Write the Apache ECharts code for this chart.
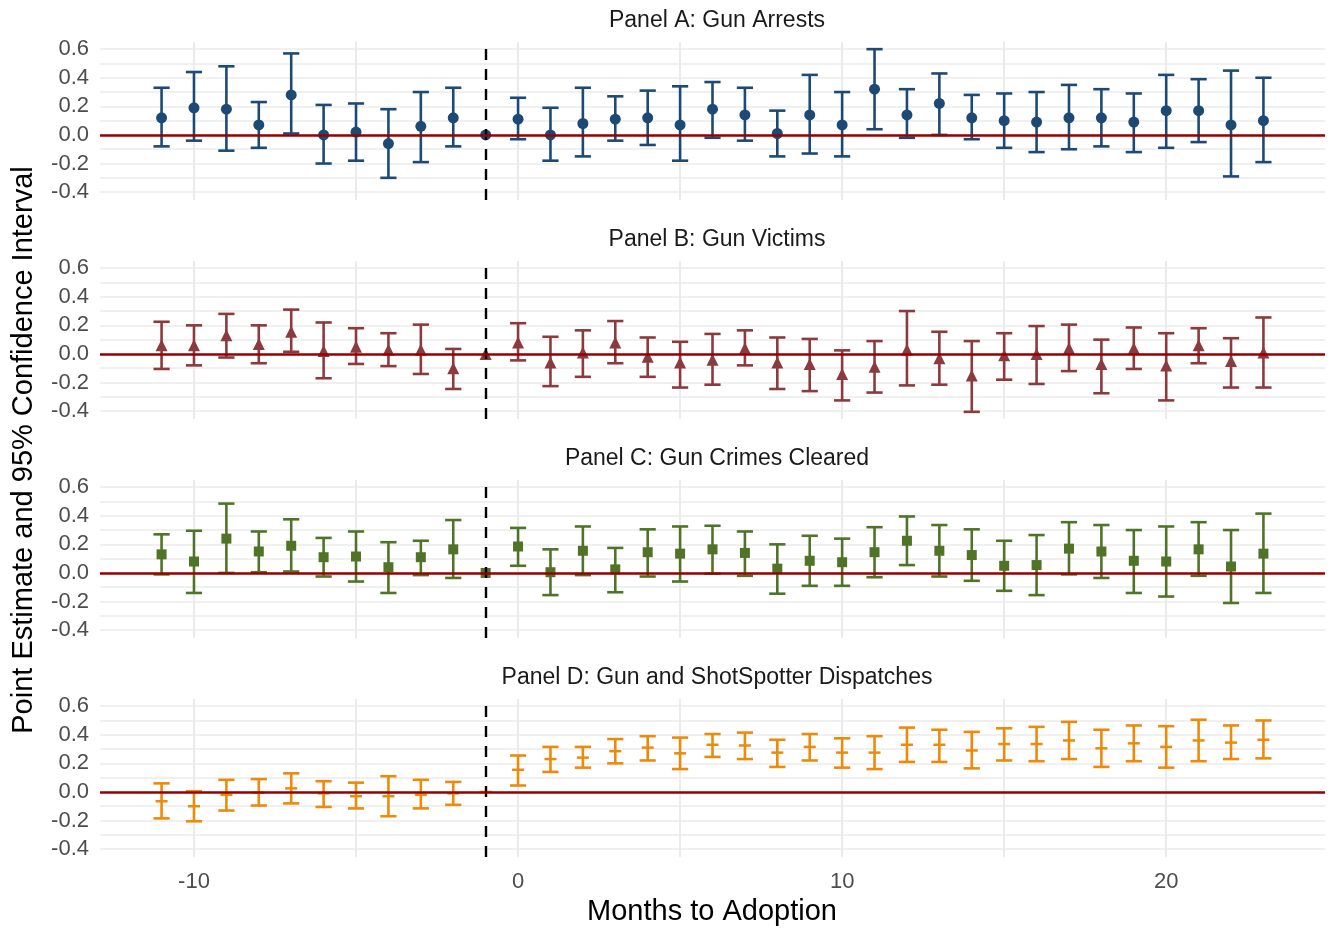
<!DOCTYPE html>
<html>
<head>
<meta charset="utf-8">
<script src="https://cdn.jsdelivr.net/npm/echarts@6/dist/echarts.min.js"></script>
<style>
	html, body { margin: 0; padding: 0; background: #fff; }
	#chart { width: 1330px; height: 929px; }
</style>
</head>
<body>
<div id="chart"></div>
<script>
// months relative to adoption (-1 is the reference month, no interval)
const months = [-11, -10, -9, -8, -7, -6, -5, -4, -3, -2, -1, 0, 1, 2, 3, 4, 5, 6, 7, 8, 9, 10, 11, 12, 13, 14, 15, 16, 17, 18, 19, 20, 21, 22, 23]

const panelTitles = [
	'Panel A: Gun Arrests',
	'Panel B: Gun Victims',
	'Panel C: Gun Crimes Cleared',
	'Panel D: Gun and ShotSpotter Dispatches'
]

// Panel A
const arrestsEst = [0.12, 0.19, 0.18, 0.07, 0.28, 0.00, 0.02, -0.06, 0.06, 0.12, 0, 0.11, 0.00, 0.08, 0.11, 0.12, 0.07, 0.18, 0.14, 0.01, 0.14, 0.07, 0.32, 0.14, 0.22, 0.12, 0.10, 0.09, 0.12, 0.12, 0.09, 0.17, 0.17, 0.07, 0.10]
const arrestsLo = [-0.08, -0.04, -0.11, -0.09, 0.01, -0.20, -0.18, -0.30, -0.19, -0.08, null, -0.03, -0.18, -0.15, -0.04, -0.07, -0.18, -0.02, -0.04, -0.15, -0.13, -0.15, 0.04, -0.02, 0.00, -0.03, -0.09, -0.12, -0.10, -0.08, -0.12, -0.09, -0.05, -0.29, -0.19]
const arrestsHi = [0.33, 0.44, 0.48, 0.23, 0.57, 0.21, 0.22, 0.18, 0.30, 0.33, null, 0.26, 0.19, 0.33, 0.27, 0.31, 0.34, 0.37, 0.33, 0.17, 0.42, 0.30, 0.60, 0.32, 0.43, 0.28, 0.29, 0.30, 0.35, 0.32, 0.29, 0.42, 0.39, 0.45, 0.40]

// Panel B
const victimsEst = [0.06, 0.06, 0.13, 0.07, 0.155, 0.02, 0.05, 0.03, 0.03, -0.10, 0, 0.08, -0.06, 0.01, 0.08, -0.02, -0.06, -0.04, 0.04, -0.06, -0.07, -0.14, -0.09, 0.03, -0.03, -0.15, -0.01, 0.00, 0.04, -0.07, 0.04, -0.08, 0.06, -0.05, 0.01]
const victimsLo = [-0.105, -0.08, -0.025, -0.065, 0.015, -0.17, -0.07, -0.085, -0.14, -0.245, null, -0.045, -0.225, -0.16, -0.065, -0.16, -0.235, -0.215, -0.08, -0.245, -0.26, -0.325, -0.27, -0.22, -0.215, -0.405, -0.18, -0.21, -0.12, -0.275, -0.105, -0.325, -0.065, -0.235, -0.235]
const victimsHi = [0.225, 0.20, 0.28, 0.20, 0.31, 0.22, 0.18, 0.145, 0.205, 0.035, null, 0.215, 0.12, 0.165, 0.23, 0.115, 0.085, 0.14, 0.165, 0.115, 0.105, 0.025, 0.09, 0.30, 0.155, 0.09, 0.145, 0.195, 0.205, 0.10, 0.185, 0.145, 0.18, 0.11, 0.255]

// Panel C
const clearedEst = [0.13, 0.08, 0.24, 0.15, 0.19, 0.11, 0.115, 0.04, 0.11, 0.165, 0, 0.185, 0.005, 0.155, 0.025, 0.145, 0.135, 0.165, 0.14, 0.03, 0.085, 0.075, 0.145, 0.225, 0.155, 0.125, 0.05, 0.055, 0.17, 0.15, 0.085, 0.08, 0.165, 0.045, 0.135]
const clearedLo = [-0.01, -0.14, 0.00, 0.005, 0.01, -0.025, -0.06, -0.14, -0.015, -0.035, null, 0.05, -0.155, -0.015, -0.135, -0.025, -0.06, -0.005, -0.02, -0.145, -0.09, -0.09, -0.03, 0.055, -0.025, -0.055, -0.125, -0.155, -0.01, -0.035, -0.14, -0.165, -0.02, -0.21, -0.14]
const clearedHi = [0.27, 0.295, 0.485, 0.29, 0.375, 0.245, 0.29, 0.215, 0.225, 0.37, null, 0.315, 0.165, 0.325, 0.175, 0.305, 0.325, 0.33, 0.29, 0.20, 0.26, 0.24, 0.32, 0.395, 0.335, 0.305, 0.225, 0.265, 0.355, 0.335, 0.30, 0.325, 0.355, 0.30, 0.415]

// Panel D
const dispatchEst = [-0.065, -0.10, -0.02, -0.005, 0.025, -0.01, -0.03, -0.03, -0.02, -0.01, 0, 0.155, 0.23, 0.24, 0.285, 0.31, 0.27, 0.33, 0.325, 0.275, 0.315, 0.275, 0.275, 0.33, 0.33, 0.29, 0.335, 0.335, 0.36, 0.305, 0.34, 0.315, 0.36, 0.345, 0.365]
const dispatchLo = [-0.185, -0.205, -0.13, -0.095, -0.08, -0.105, -0.115, -0.17, -0.115, -0.09, null, 0.045, 0.14, 0.17, 0.20, 0.22, 0.16, 0.245, 0.23, 0.175, 0.22, 0.17, 0.16, 0.21, 0.21, 0.165, 0.22, 0.215, 0.23, 0.175, 0.215, 0.17, 0.215, 0.23, 0.235]
const dispatchHi = [0.06, 0.005, 0.085, 0.09, 0.13, 0.075, 0.065, 0.11, 0.085, 0.07, null, 0.255, 0.315, 0.315, 0.37, 0.39, 0.38, 0.405, 0.415, 0.365, 0.405, 0.375, 0.39, 0.45, 0.435, 0.42, 0.445, 0.455, 0.49, 0.435, 0.465, 0.46, 0.505, 0.465, 0.50]

const xGridValues = [-10, -5, 0, 5, 10, 15, 20]
const xTickLabels = [-10, 0, 10, 20]
const yGridValues = [-0.4, -0.3, -0.2, -0.1, 0, 0.1, 0.2, 0.3, 0.4, 0.5, 0.6]
const yTickLabels = [-0.4, -0.2, 0, 0.2, 0.4, 0.6]

const panels = [
	{ est: arrestsEst, lo: arrestsLo, hi: arrestsHi, color: '#1d4a74', symbol: 'circle', size: 11 },
	{ est: victimsEst, lo: victimsLo, hi: victimsHi, color: '#8b3a3e', symbol: 'triangle', size: [12, 12] },
	{ est: clearedEst, lo: clearedLo, hi: clearedHi, color: '#4f7428', symbol: 'rect', size: 10 },
	{ est: dispatchEst, lo: dispatchLo, hi: dispatchHi, color: '#ec8a0c', symbol: 'rect', size: [12, 2.5] }
]

const font = '"Liberation Sans", Arial, Helvetica, sans-serif'
const gridColor = '#ebebeb'
const panelTop = 42
const panelStep = 219
const panelHeight = 158

const grids = []
const xAxes = []
const yAxes = []
const series = []
const titles = []

panels.forEach((p, i) => {
	grids.push({ left: 100, right: 5, top: panelTop + panelStep * i, height: panelHeight })
	xAxes.push({
		type: 'value', gridIndex: i, min: -12.9, max: 24.9,
		axisLine: { show: false },
		axisTick: { show: false, customValues: xGridValues },
		axisLabel: {
			show: i === 3, customValues: xTickLabels, margin: 14,
			color: '#4d4d4d', fontSize: 22, fontFamily: font
		},
		splitLine: { show: true, lineStyle: { color: gridColor, width: 2 } }
	})
	yAxes.push({
		type: 'value', gridIndex: i, min: -0.455, max: 0.65,
		axisLine: { show: false },
		axisTick: { show: false, customValues: yGridValues },
		axisLabel: {
			customValues: yTickLabels, margin: 11,
			color: '#4d4d4d', fontSize: 22, fontFamily: font,
			formatter: v => v.toFixed(1)
		},
		splitLine: { show: true, lineStyle: { color: gridColor, width: 1.6 } }
	})
	titles.push({
		text: panelTitles[i], left: 712, textAlign: 'center',
		top: 4 + panelStep * i,
		textStyle: { color: '#1a1a1a', fontSize: 23, fontWeight: 'normal', fontFamily: font }
	})

	const barData = months
		.map((m, k) => [m, p.lo[k], p.hi[k]])
		.filter(d => d[1] !== null)

	series.push({
		type: 'custom', xAxisIndex: i, yAxisIndex: i, z: 2,
		data: barData,
		renderItem: (params, api) => {
			const x = api.value(0)
			const top = api.coord([x, api.value(2)])
			const bot = api.coord([x, api.value(1)])
			const half = api.size([0.25, 0])[0]
			const style = { stroke: p.color, lineWidth: 2.6 }
			return {
				type: 'group',
				children: [
					{ type: 'line', shape: { x1: top[0], y1: top[1], x2: bot[0], y2: bot[1] }, style },
					{ type: 'line', shape: { x1: top[0] - half, y1: top[1], x2: top[0] + half, y2: top[1] }, style },
					{ type: 'line', shape: { x1: bot[0] - half, y1: bot[1], x2: bot[0] + half, y2: bot[1] }, style }
				]
			}
		}
	})

	series.push({
		type: 'line', xAxisIndex: i, yAxisIndex: i, z: 3, data: [],
		markLine: {
			silent: true, symbol: 'none', animation: false,
			label: { show: false },
			data: [
				{ xAxis: -1, lineStyle: { color: '#000', type: [11, 9], width: 2.4 } },
				{ yAxis: 0, lineStyle: { color: '#990000', type: 'solid', width: 2.6 } }
			]
		}
	})

	series.push({
		type: 'scatter', xAxisIndex: i, yAxisIndex: i, z: 4,
		symbol: p.symbol, symbolSize: p.size,
		itemStyle: { color: p.color, opacity: 1 },
		data: months.map((m, k) => [m, p.est[k]])
	})
})

const chart = echarts.init(document.getElementById('chart'))
chart.setOption({
	animation: false,
	backgroundColor: '#fff',
	title: titles,
	grid: grids,
	xAxis: xAxes,
	yAxis: yAxes,
	series: series,
	graphic: [
		{
			type: 'text', x: 712, y: 912,
			style: {
				text: 'Months to Adoption', fill: '#000', fontSize: 29, fontFamily: font,
				textAlign: 'center', textVerticalAlign: 'middle'
			}
		},
		{
			type: 'text', x: 24, y: 450, rotation: Math.PI / 2,
			style: {
				text: 'Point Estimate and 95% Confidence Interval', fill: '#000', fontSize: 29, fontFamily: font,
				textAlign: 'center', textVerticalAlign: 'middle'
			}
		}
	]
})
</script>
</body>
</html>
